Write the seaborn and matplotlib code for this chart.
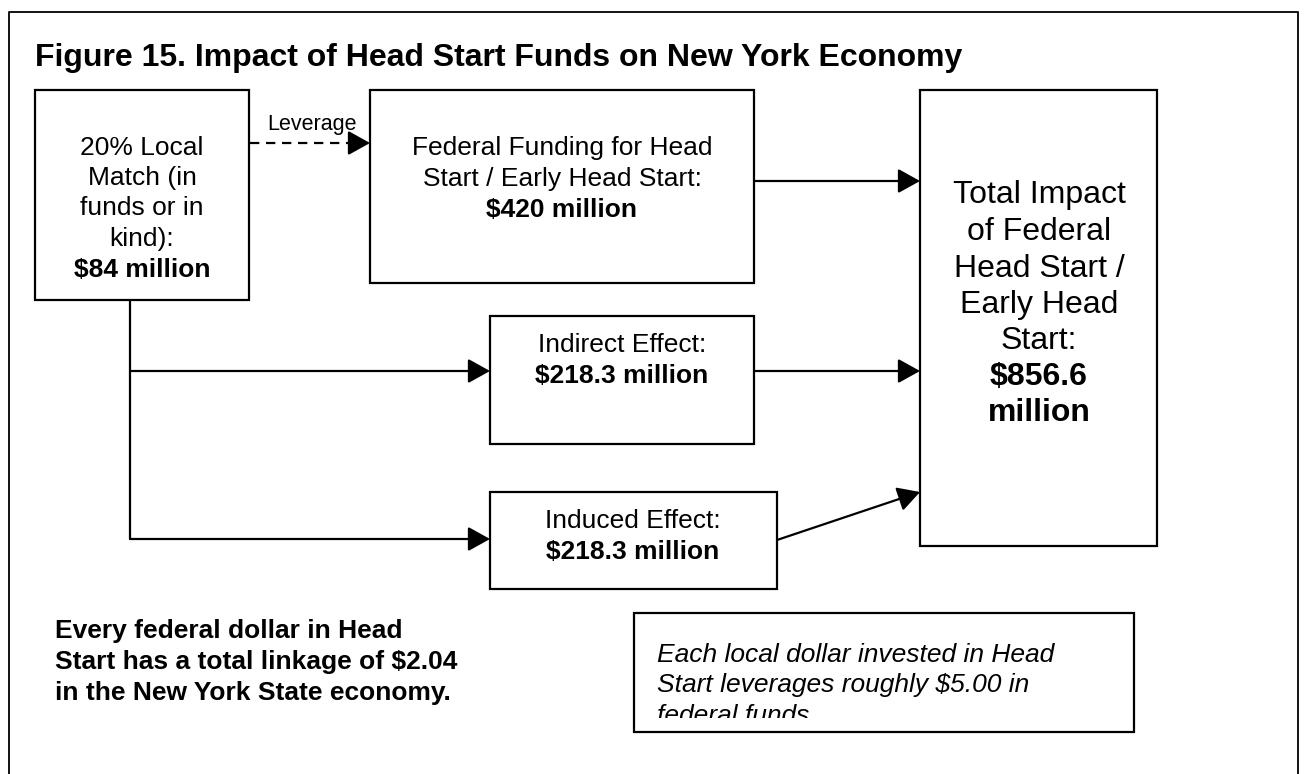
import matplotlib
matplotlib.use("Agg")
import matplotlib.pyplot as plt
import seaborn as sns
from matplotlib.patches import Rectangle, ArrowStyle
from matplotlib.transforms import Bbox, TransformedBbox

sns.set_theme(style="white")
plt.rcParams["font.family"] = ["Liberation Sans", "DejaVu Sans"]
plt.rcParams["text.color"] = "black"

# text content of the diagram
title = "Figure 15. Impact of Head Start Funds on New York Economy"
local_lines = ["20% Local", "Match (in", "funds or in", "kind):"]
local_value = "$84 million"
federal_lines = ["Federal Funding for Head", "Start / Early Head Start:"]
federal_value = "$420 million"
indirect_label = "Indirect Effect:"
indirect_value = "$218.3 million"
induced_label = "Induced Effect:"
induced_value = "$218.3 million"
total_lines = ["Total Impact", "of Federal", "Head Start /", "Early Head", "Start:"]
total_value = ["$856.6", "million"]
leverage_label = "Leverage"
bold_note = ["Every federal dollar in Head", "Start has a total linkage of $2.04",
             "in the New York State economy."]
italic_note = ["Each local dollar invested in Head", "Start leverages roughly $5.00 in",
               "federal funds."]

# layout in pixel space (x0, y0, x1, y1)
boxes = {
    "local": (35, 90, 249, 300),
    "federal": (370, 90, 754, 283),
    "total": (920, 90, 1157, 546),
    "indirect": (490, 316, 754, 444),
    "induced": (490, 492, 777, 589),
    "note": (634, 613, 1134, 732),
}

fig = plt.figure(figsize=(13.06, 7.74), dpi=100)
ax = fig.add_axes([0, 0, 1, 1])
ax.set_xlim(0, 1306)
ax.set_ylim(774, 0)
ax.axis("off")

LW = 1.6
FS = 19

# outer frame (open at bottom, runs off the page)
ax.plot([9, 9, 1298, 1298], [800, 12, 12, 800], color="black", lw=1.3)

ax.text(35, 66, title, fontsize=23, fontweight="bold", ha="left", va="baseline")

for key, (x0, y0, x1, y1) in boxes.items():
    ax.add_patch(Rectangle((x0, y0), x1 - x0, y1 - y0, fill=False,
                           edgecolor="black", lw=LW))


def lines_at(x, ys, texts, ha="center", size=FS, weight="normal", style="normal"):
    out = []
    for y, t in zip(ys, texts):
        out.append(ax.text(x, y, t, ha=ha, va="baseline", fontsize=size,
                           fontweight=weight, fontstyle=style))
    return out


# local match box
lines_at(142, [155, 185, 215, 246], local_lines)
lines_at(142, [277], [local_value], weight="bold")

# federal box
lines_at(562, [155, 186], federal_lines)
lines_at(562, [217], [federal_value], weight="bold")

# indirect / induced
lines_at(622, [352], [indirect_label])
lines_at(622, [383], [indirect_value], weight="bold")
lines_at(633, [528], [induced_label])
lines_at(633, [559], [induced_value], weight="bold")

# total
lines_at(1039, [203, 240, 277, 313, 349], total_lines, size=23)
lines_at(1039, [385, 421], total_value, size=23, weight="bold")

# notes
lines_at(55, [638, 669, 700], bold_note, ha="left", weight="bold")
nx0, ny0, nx1, ny1 = boxes["note"]
clip_box = TransformedBbox(Bbox([[nx0, ny0], [nx1, 718]]), ax.transData)
for tx in lines_at(657, [662, 692, 723], italic_note, ha="left", style="italic"):
    tx.set_clip_on(True)
    tx.set_clip_box(clip_box)

# arrows
head = ArrowStyle("-|>", head_length=0.9, head_width=0.5)


def arrow(p0, p1):
    ax.annotate("", xy=p1, xytext=p0,
                arrowprops=dict(arrowstyle=head, mutation_scale=15, lw=LW,
                                color="black", shrinkA=0, shrinkB=0))


# dashed leverage arrow
ax.plot([250, 356], [143, 143], color="black", lw=LW, ls=(0, (4.2, 3.0)))
arrow((352, 143), (370, 143))
ax.text(312, 130, leverage_label, ha="center", va="baseline", fontsize=15.5)

arrow((754, 181), (920, 181))
arrow((754, 371), (920, 371))
arrow((777, 540), (920, 492))

# branch from local box
ax.plot([130, 130], [300, 539], color="black", lw=LW)
arrow((130, 371), (490, 371))
arrow((130, 539), (490, 539))

fig.savefig("out.png", dpi=100, facecolor="white")
